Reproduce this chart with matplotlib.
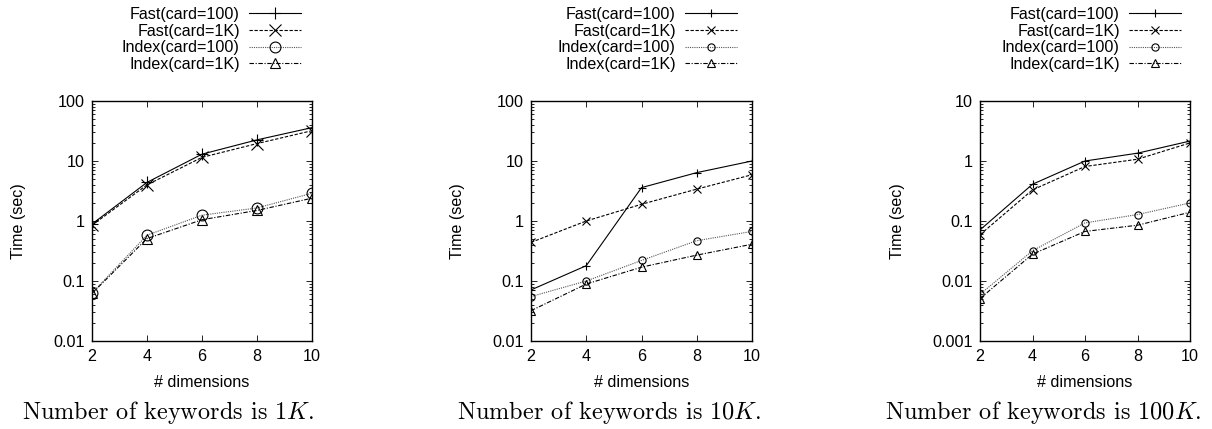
import numpy as np
import matplotlib
matplotlib.use("Agg")
import matplotlib.pyplot as plt
from matplotlib.ticker import FixedLocator, LogLocator, NullFormatter

plt.rcParams['font.family'] = ['Liberation Sans', 'DejaVu Sans']
plt.rcParams['mathtext.fontset'] = 'cm'

dims = [2, 4, 6, 8, 10]
labels = ["Fast(card=100)", "Fast(card=1K)", "Index(card=100)", "Index(card=1K)"]

# panel 1: 1K keywords
fast100_1k = [0.89, 4.4, 13.0, 22.5, 36.0]
fast1k_1k = [0.85, 4.0, 11.5, 19.5, 32.0]
index100_1k = [0.063, 0.58, 1.25, 1.65, 2.9]
index1k_1k = [0.062, 0.51, 1.05, 1.5, 2.4]

# panel 2: 10K keywords
fast100_10k = [0.071, 0.18, 3.6, 6.4, 10.0]
fast1k_10k = [0.44, 1.0, 1.9, 3.4, 5.9]
index100_10k = [0.055, 0.10, 0.22, 0.47, 0.67]
index1k_10k = [0.032, 0.089, 0.17, 0.27, 0.41]

# panel 3: 100K keywords
fast100_100k = [0.071, 0.41, 1.0, 1.35, 2.15]
fast1k_100k = [0.059, 0.33, 0.81, 1.07, 2.0]
index100_100k = [0.006, 0.032, 0.093, 0.128, 0.20]
index1k_100k = [0.0051, 0.028, 0.067, 0.085, 0.14]

panels = [
    dict(series=[fast100_1k, fast1k_1k, index100_1k, index1k_1k],
         ylim=(0.01, 100), yticks=[0.01, 0.1, 1, 10, 100],
         yticklabels=["0.01", "0.1", "1", "10", "100"],
         caption="Number of keywords is $1K$.", ms=1.5),
    dict(series=[fast100_10k, fast1k_10k, index100_10k, index1k_10k],
         ylim=(0.01, 100), yticks=[0.01, 0.1, 1, 10, 100],
         yticklabels=["0.01", "0.1", "1", "10", "100"],
         caption="Number of keywords is $10K$.", ms=1.0),
    dict(series=[fast100_100k, fast1k_100k, index100_100k, index1k_100k],
         ylim=(0.001, 10), yticks=[0.001, 0.01, 0.1, 1, 10],
         yticklabels=["0.001", "0.01", "0.1", "1", "10"],
         caption="Number of keywords is $100K$.", ms=1.0),
]

# axes boxes in pixels (left, right), shared top/bottom
W, H = 1212, 429
boxes = [(92, 312), (531, 752), (980, 1190)]
legend_right = [301, 737, 1181]
caption_x = [168, 609, 1043]
top_px, bot_px = 101, 341
fs = 11.6

styles = [
    dict(ls='-', marker='+', color='black', base=5.5),
    dict(ls=(0, (3, 1.5)), marker='x', color='black', base=5.5),
    dict(ls=(0, (1, 1)), marker='o', color='#555555', base=5.2, hollow=True),
    dict(ls=(0, (4, 1.5, 1, 1.5)), marker='^', color='black', base=5.2, hollow=True),
]

fig = plt.figure(figsize=(W / 100, H / 100), dpi=100)

for i, p in enumerate(panels):
    l, r = boxes[i]
    ax = fig.add_axes([l / W, (H - bot_px) / H, (r - l) / W, (bot_px - top_px) / H])
    handles = []
    for s, st, lab in zip(p['series'], styles, labels):
        kw = dict(mfc='none', mec='black') if st.get('hollow') else dict(mec='black')
        h, = ax.plot(dims, s, linestyle=st['ls'], color=st['color'], lw=0.8,
                     marker=st['marker'], ms=st['base'] * p['ms'], mew=0.8,
                     label=lab, **kw)
        handles.append(h)
    ax.set_yscale('log')
    ax.set_ylim(*p['ylim'])
    ax.set_xlim(2, 10)
    ax.set_xticks(dims)
    ax.yaxis.set_major_locator(FixedLocator(p['yticks']))
    ax.set_yticklabels(p['yticklabels'])
    ax.yaxis.set_minor_locator(LogLocator(base=10, subs=np.arange(2, 10), numticks=20))
    ax.yaxis.set_minor_formatter(NullFormatter())
    ax.tick_params(which='both', direction='in', top=True, right=True, labelsize=fs, width=0.6)
    ax.tick_params(which='major', length=4, pad=5)
    ax.tick_params(which='minor', length=2)
    ax.tick_params(axis='x', pad=6)
    for sp in ax.spines.values():
        sp.set_linewidth(1.0)
    ax.set_xlabel("# dimensions", fontsize=fs, labelpad=8)
    ax.set_ylabel("Time (sec)", fontsize=fs, labelpad=20)

    fig.legend(handles=handles, loc='upper right', frameon=False,
               bbox_to_anchor=(legend_right[i] / W, 1 - 7 / H),
               bbox_transform=fig.transFigure, fontsize=fs, markerfirst=False,
               handlelength=3.2, handletextpad=0.6, labelspacing=0.1,
               borderpad=0, borderaxespad=0)

    fig.text(caption_x[i] / W, 1 - 412 / H, p['caption'], ha='center', va='center',
             fontsize=17.5, family=['cmr10', 'DejaVu Serif'])

fig.savefig("out.png", dpi=100)
